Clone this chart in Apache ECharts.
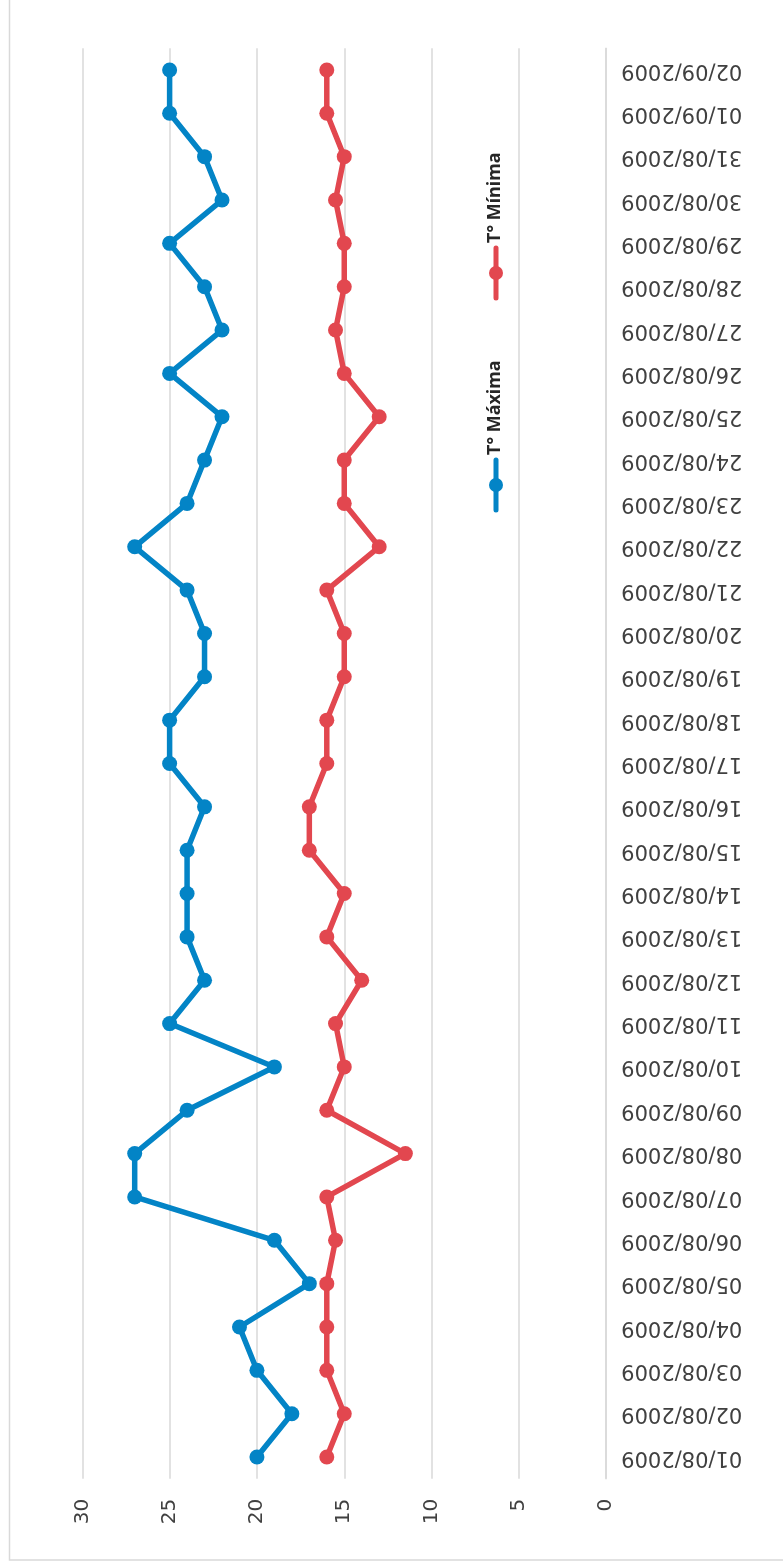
<!DOCTYPE html>
<html>
<head>
<meta charset="utf-8">
<script src="https://cdn.jsdelivr.net/npm/echarts@6/dist/echarts.min.js"></script>
<style>
  html, body { margin: 0; padding: 0; background: #fff; }
  #chart { width: 783px; height: 1564px; }
</style>
</head>
<body>
<div id="chart"></div>
<script>
// datos
var fechas = ['01/08/2009','02/08/2009','03/08/2009','04/08/2009','05/08/2009','06/08/2009','07/08/2009','08/08/2009',
  '09/08/2009','10/08/2009','11/08/2009','12/08/2009','13/08/2009','14/08/2009','15/08/2009','16/08/2009',
  '17/08/2009','18/08/2009','19/08/2009','20/08/2009','21/08/2009','22/08/2009','23/08/2009','24/08/2009',
  '25/08/2009','26/08/2009','27/08/2009','28/08/2009','29/08/2009','30/08/2009','31/08/2009','01/09/2009','02/09/2009'];
var tMaxima = [20, 18, 20, 21, 17, 19, 27, 27, 24, 19, 25, 23, 24, 24, 24, 23,
  25, 25, 23, 23, 24, 27, 24, 23, 22, 25, 22, 23, 25, 22, 23, 25, 25];
var tMinima = [16, 15, 16, 16, 16, 15.5, 16, 11.5, 16, 15, 15.5, 14, 16, 15, 17, 17,
  16, 16, 15, 15, 16, 13, 15, 15, 13, 15, 15.5, 15, 15, 15.5, 15, 16, 16];
var nombres = ['T° Máxima', 'T° Mínima'];
var colores = ['#0384c6', '#e2474f'];

var chart = echarts.init(document.getElementById('chart'));

// leyenda girada (texto de abajo hacia arriba)
function itemLeyenda(cx, cy, nombre, color) {
  return {
    type: 'group',
    children: [
      { type: 'line', shape: { x1: cx, y1: cy - 25, x2: cx, y2: cy + 25 },
        style: { stroke: color, lineWidth: 5, lineCap: 'round' } },
      { type: 'circle', shape: { cx: cx, cy: cy, r: 7 }, style: { fill: color } },
      { type: 'text', x: cx - 1, y: cy - 30, rotation: Math.PI / 2,
        style: { text: nombre, x: 0, y: 0, align: 'left', verticalAlign: 'middle',
          fill: '#262626', font: 'bold 18px "Noto Sans"' } }
    ]
  };
}

var option = {
  animation: false,
  backgroundColor: '#fff',
  grid: { left: 82.3, right: 176.8, top: 48.3, bottom: 85.3 },
  xAxis: {
    type: 'value',
    min: 0, max: 30, interval: 5,
    inverse: true,
    position: 'bottom',
    axisLine: { show: false },
    axisTick: { show: false },
    axisLabel: { rotate: 90, margin: 20, color: '#404040', fontSize: 20, fontFamily: 'DejaVu Sans' },
    splitLine: { lineStyle: { color: '#d9d9d9', width: 1.5 } }
  },
  yAxis: {
    type: 'category',
    data: fechas,
    position: 'right',
    boundaryGap: true,
    axisLine: { lineStyle: { color: '#d9d9d9', width: 1.5 } },
    axisTick: { show: false },
    axisLabel: { rotate: 180, margin: 15, interval: 0, color: '#404040', fontSize: 21, fontFamily: 'DejaVu Sans' },
    splitLine: { show: false }
  },
  series: [
    { name: nombres[0], type: 'line', data: tMaxima, symbol: 'circle', symbolSize: 15,
      itemStyle: { color: colores[0] }, lineStyle: { color: colores[0], width: 5.5 } },
    { name: nombres[1], type: 'line', data: tMinima, symbol: 'circle', symbolSize: 15,
      itemStyle: { color: colores[1] }, lineStyle: { color: colores[1], width: 5.5 } }
  ],
  graphic: [
    { type: 'rect', shape: { x: 9.5, y: -10, width: 800, height: 1570 },
      style: { fill: 'none', stroke: '#d9d9d9', lineWidth: 1.5 }, silent: true },
    itemLeyenda(496, 485, nombres[0], colores[0]),
    itemLeyenda(496, 273, nombres[1], colores[1])
  ]
};
chart.setOption(option);
</script>
</body>
</html>
